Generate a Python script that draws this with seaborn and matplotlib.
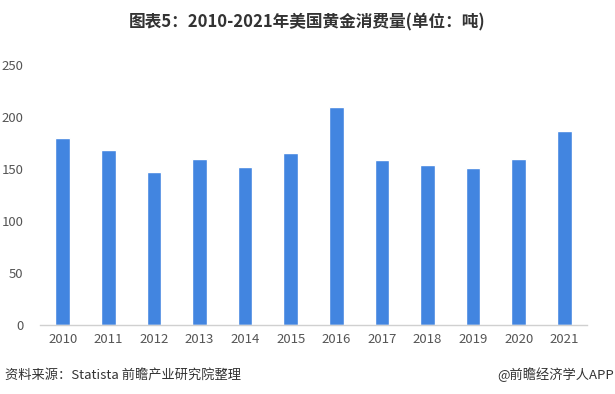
import matplotlib
matplotlib.use('Agg')
import matplotlib.pyplot as plt
import seaborn as sns
import pandas as pd

# Data
years = ['2010', '2011', '2012', '2013', '2014', '2015', '2016', '2017', '2018', '2019', '2020', '2021']
consumption = [180, 168, 147, 160, 152, 165, 210, 159, 154, 151, 160, 187]
y_ticks = [0, 50, 100, 150, 200, 250]

df = pd.DataFrame({'Year': years, 'Tonnes': consumption})

sns.set_style('white')
plt.rcParams['font.family'] = ['Noto Sans CJK SC', 'DejaVu Sans']

fig = plt.figure(figsize=(6.15, 3.94), dpi=100)
ax = fig.add_axes([40/615, (394-325)/394, (587-40)/615, (325-65)/394])

sns.barplot(x='Year', y='Tonnes', data=df, color='#4285E0', width=0.32, saturation=1, ax=ax)

ax.set_xlim(-0.5, len(years) - 0.5)
ax.set_ylim(0, 250)
ax.set_yticks(y_ticks)
ax.set_xlabel('')
ax.set_ylabel('')
for s in ['top', 'right', 'left']:
    ax.spines[s].set_visible(False)
ax.spines['bottom'].set_color('#D0D0D0')
ax.spines['bottom'].set_linewidth(1)
ax.tick_params(axis='both', length=0, labelsize=9.5, colors='#555555')
ax.tick_params(axis='y', pad=12)
ax.tick_params(axis='x', pad=6)

fig.text(0.5, 0.942, '图表5：2010-2021年美国黄金消费量(单位：吨)', ha='center', va='center',
         fontsize=12, fontweight='bold', color='#333333')
fig.text(0.008, 0.048, '资料来源：Statista 前瞻产业研究院整理', ha='left', va='center',
         fontsize=9.5, color='#333333')
fig.text(0.998, 0.048, '@前瞻经济学人APP', ha='right', va='center',
         fontsize=9.5, color='#333333')

fig.savefig('out.png', dpi=100)
